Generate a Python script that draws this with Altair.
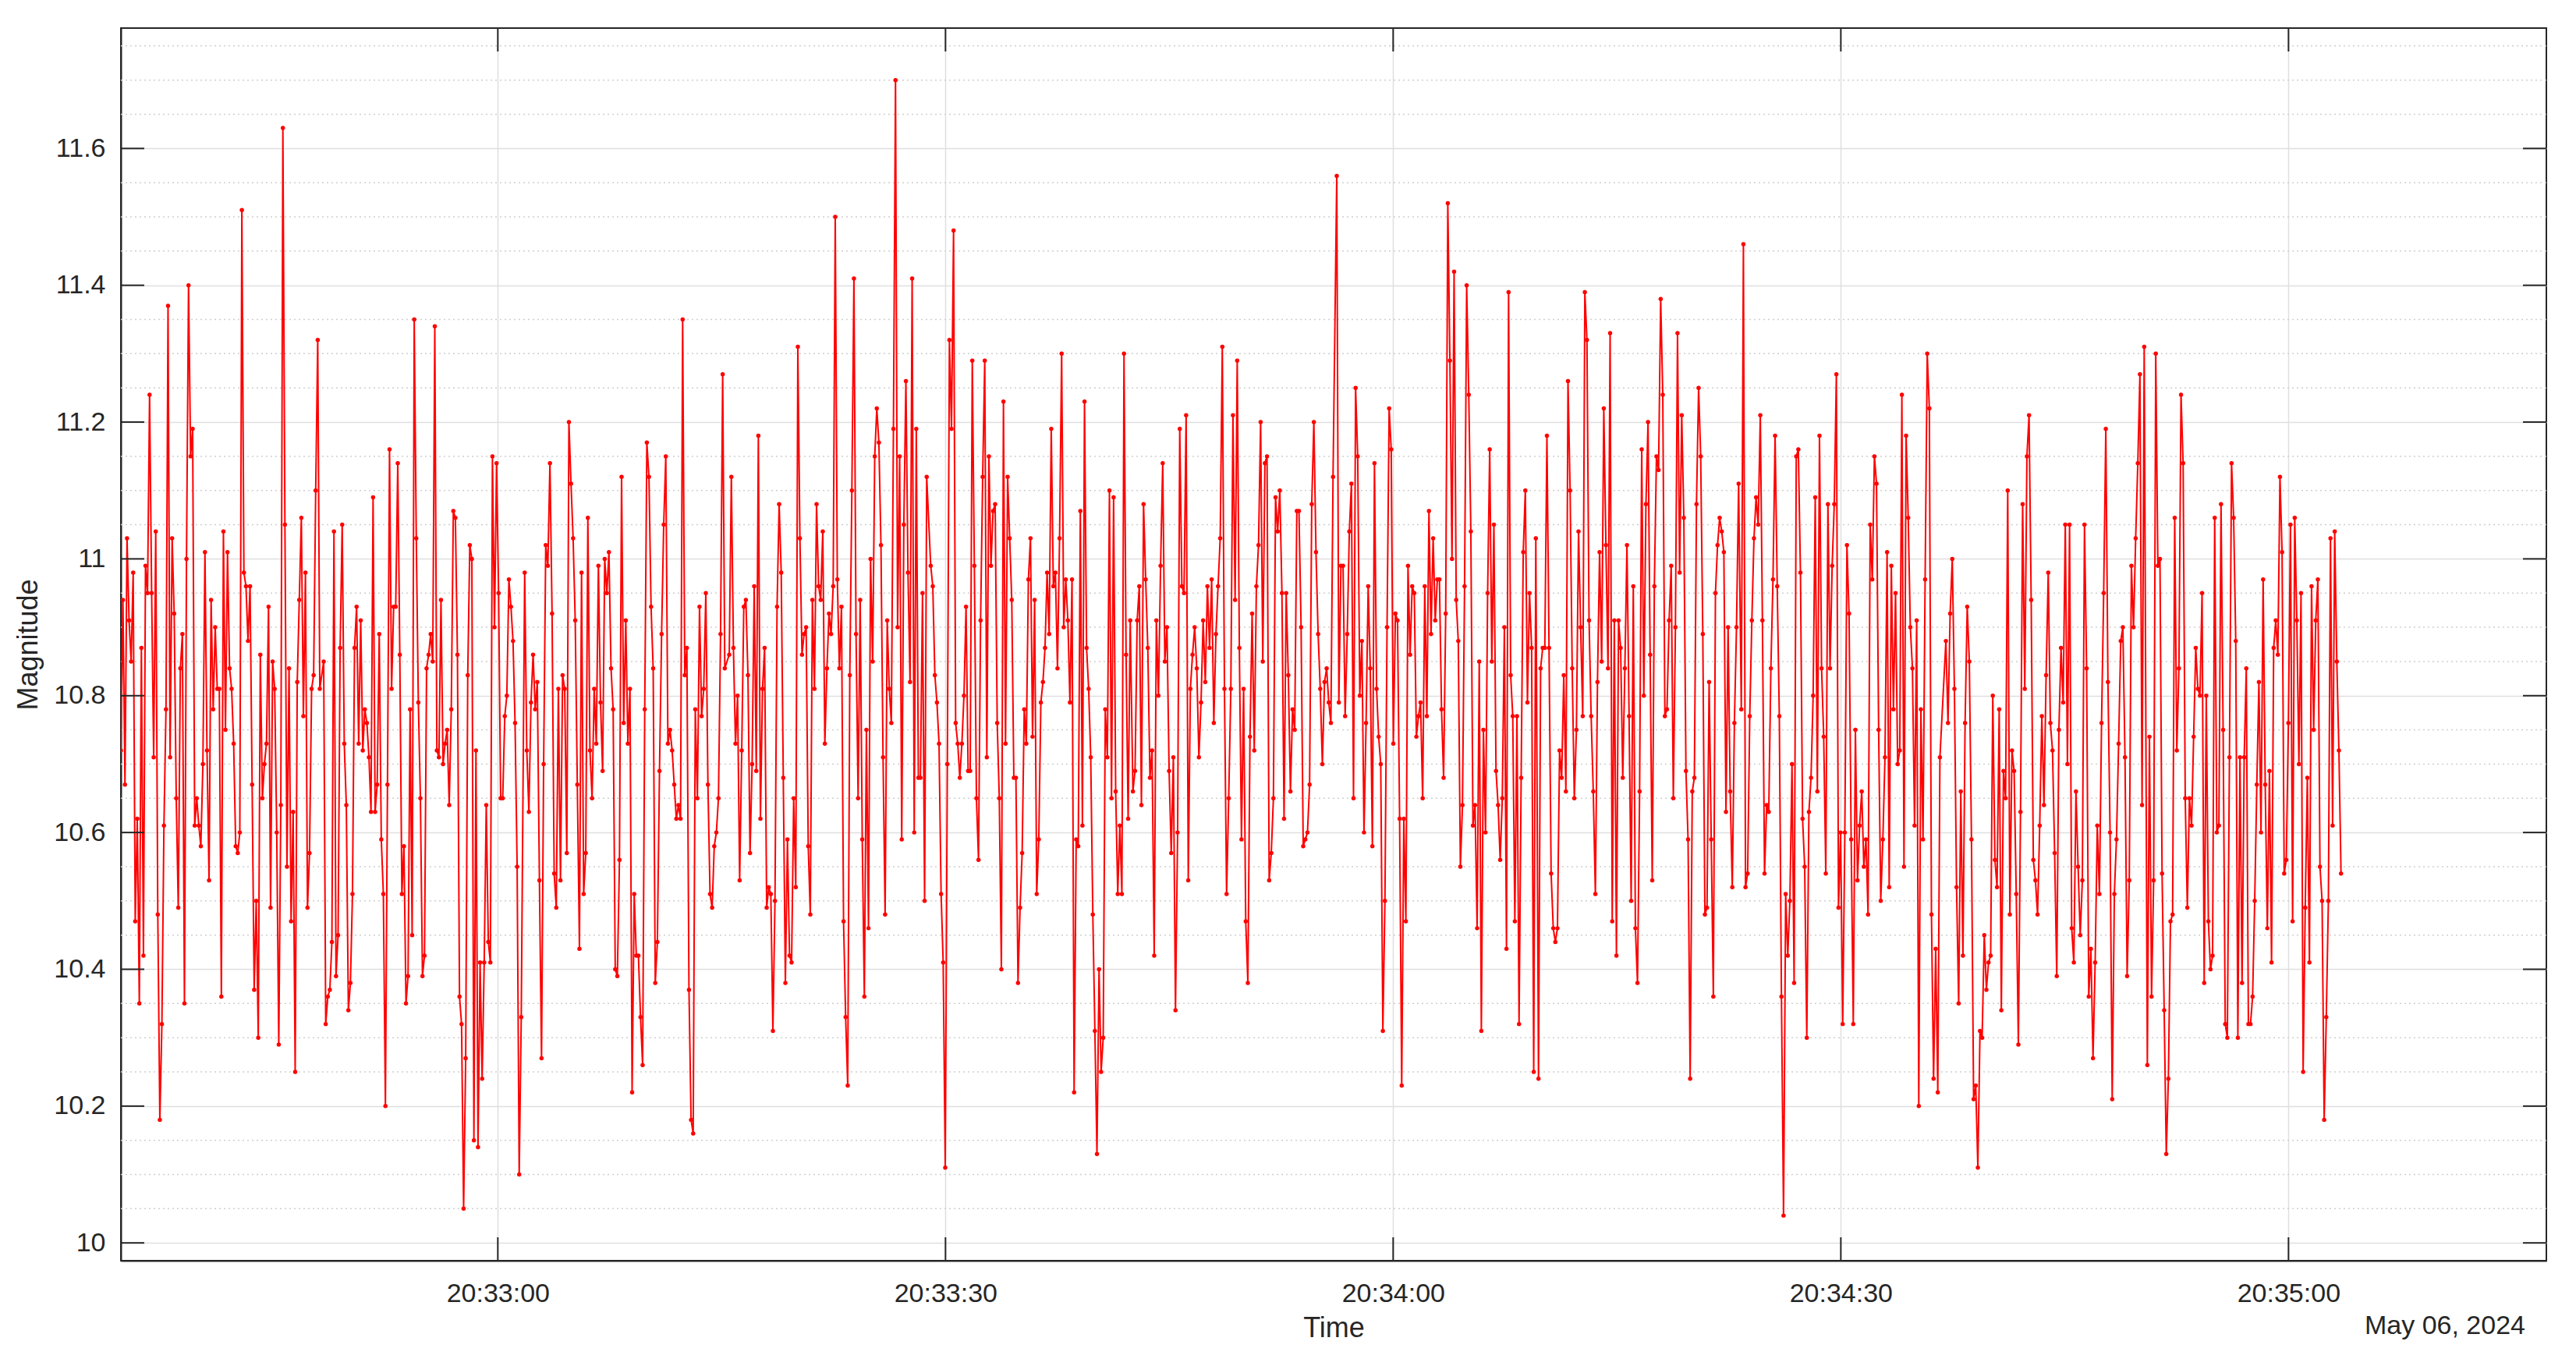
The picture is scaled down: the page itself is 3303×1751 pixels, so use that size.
import altair as alt
import pandas as pd

# ---- data (magnitude samples, left to right, in 11 runs) ----
S1 = [10.72,10.94,10.67,11.03,10.91,10.85,10.98,10.47,10.62,10.35,10.87,10.42,10.99,10.95,11.24,10.95,10.71,11.04,10.48,10.18,10.32,10.61,10.78,11.37,10.71,11.03,10.92,10.65,10.49,10.84,10.89,10.35,11.00,11.40,11.15,11.19,10.61,10.65,10.61,10.58,10.70,11.01,10.72,10.53,10.94,10.78,10.90,10.81,10.81,10.36,11.04,10.75,11.01,10.84,10.81,10.73,10.58,10.57,10.60,11.51,10.98,10.96,10.88,10.96,10.67,10.37,10.50,10.30,10.86,10.65,10.70,10.73,10.93,10.49,10.85,10.81,10.60,10.29,10.64,11.63,11.05,10.55,10.84,10.47,10.63,10.25,10.82,10.94,11.06,10.77,10.98,10.49,10.57,10.81,10.83,11.10,11.32,10.81]
S2 = [10.85,10.32,10.36,10.37,10.44,11.04,10.39,10.45,10.87,11.05,10.73,10.64,10.34,10.38,10.51,10.87,10.93,10.73,10.91,10.72,10.78,10.76,10.71,10.63,11.09,10.63,10.67,10.89,10.59,10.51,10.20,10.67,11.16,10.81,10.93,10.93,11.14,10.86,10.51,10.58,10.35,10.39,10.78,10.45,11.35,11.03,10.79,10.65,10.39,10.42,10.84,10.86,10.89,10.85,11.34,10.72,10.71,10.94,10.70,10.73,10.75,10.64,10.78,11.07,11.06,10.86,10.36,10.32,10.05,10.27,10.83,11.02,11.00,10.15,10.72,10.14,10.41,10.24,10.41,10.64,10.44,10.41,11.15,10.90,11.14,10.95,10.65,10.65,10.77,10.80,10.97,10.93,10.88,10.76,10.55,10.10,10.33]
S3 = [10.98,10.72,10.63,10.79,10.86,10.78,10.82,10.53,10.27,10.70,11.02,10.99,11.14,10.92,10.54,10.49,10.81,10.53,10.83,10.81,10.57,11.20,11.11,11.03,10.91,10.67,10.43,10.98,10.51,10.57,11.06,10.72,10.65,10.81,10.73,10.99,10.79,10.69,11.00,10.95,11.01,10.84,10.78,10.40,10.39,10.56,11.12,10.76,10.91,10.73,10.81,10.22,10.51,10.42,10.42,10.33,10.26,10.78,11.17,11.12,10.93,10.84,10.38,10.44,10.69,10.89,11.05,11.15,10.73,10.75,10.72,10.67,10.62,10.64,10.62,11.35,10.83,10.87,10.37,10.18,10.16,10.78,10.65,10.93,10.77,10.81,10.95,10.67,10.51,10.49,10.58,10.60,10.65,10.89,11.27,10.84]
S4 = [10.86,11.12,10.87,10.73,10.80,10.53,10.72,10.93,10.94,10.83,10.57,10.70,10.96,10.69,11.18,10.62,10.81,10.87,10.49,10.52,10.51,10.31,10.50,10.93,11.08,10.98,10.68,10.38,10.59,10.42,10.41,10.65,10.52,11.31,11.03,10.86,10.89,10.90,10.58,10.48,10.94,10.81,11.08,10.96,10.94,11.04,10.73,10.84,10.92,10.89,10.96,11.50,10.97,10.84,10.93,10.47,10.33,10.23,10.83,11.10,11.41,10.89,10.65,10.94,10.59,10.36,10.75,10.46,11.00,10.85,11.15,11.22,11.17,11.02,10.71,10.48,10.91,10.81,10.76,11.19,11.70,10.90,11.15,10.59,11.05,11.26,10.98,10.82,11.41,10.60,11.19,10.68,10.68,10.95,10.50,11.12]
S5 = [10.99,10.96,10.83,10.79,10.73,10.51,10.41,10.11,10.70,11.32,11.19,11.48,10.76,10.73,10.68,10.73,10.80,10.93,10.69,10.69,11.29,10.99,10.65,10.56,10.91,11.12,11.29,10.71,11.15,10.99,11.07,11.08,10.76,10.65,10.40,11.23,10.73,11.12,11.03,10.94,10.68,10.68,10.38,10.49,10.57,10.78,10.73,10.97,11.03,10.74,10.94,10.51,10.59,10.79,10.82,10.87,10.98,10.89,11.19,10.96,10.98,10.84,11.03,11.30,10.90,10.97,10.91,10.79,10.97,10.22,10.59,10.58,11.07,10.61,11.23,10.87,10.81,10.71,10.48,10.31,10.13,10.40,10.25,10.30,10.78,10.71,11.10,10.65,11.09,10.66,10.51,10.61,10.51,11.30,10.86,10.62,10.91]
S6 = [10.66,10.69,10.91,10.96,10.64,11.08,10.97,10.87,10.68,10.72,10.42,10.91,10.80,10.99,11.14,10.85,10.90,10.69,10.57,10.71,10.34,10.60,11.19,10.96,10.95,11.21,10.53,10.81,10.86,10.90,10.84,10.71,10.79,10.91,10.82,10.96,10.87,10.97,10.76,10.89,10.96,11.03,11.31,10.81,10.51,10.65,10.81,11.21,10.94,11.29,10.87,10.59,10.81,10.47,10.38,10.74,10.92,10.72,10.96,11.02,11.20,10.85,11.14,11.15,10.53,10.57,10.65,11.09,11.04,11.10,10.95,10.62,10.95,10.83,10.66,10.78,10.75,11.07,11.07,10.90,10.58,10.59,10.60,10.67,11.08,11.20,11.01,10.89,10.81,10.70,10.82,10.84,10.79,10.76,11.12]
S7 = [11.56,10.79,10.99,10.99,10.77,10.89,11.04,11.11,10.65,11.25,11.15,10.80,10.88,10.60,10.76,10.96,10.84,10.58,11.14,10.81,10.74,10.70,10.31,10.50,10.90,11.22,11.16,10.73,10.92,10.91,10.62,10.23,10.62,10.47,10.99,10.86,10.96,10.95,10.74,10.77,10.79,10.65,10.96,10.77,11.07,10.89,11.03,10.91,10.97,10.97,10.78,10.68,10.92,11.52,11.29,11.00,11.42,10.94,10.88,10.55,10.64,10.96,11.40,11.24,11.04,10.61,10.64,10.46,10.85,10.31,10.75,10.60,10.95,11.16,10.85,11.05,10.69,10.64,10.56,10.65,10.90,10.43,11.39,10.83,10.77,10.47,10.77,10.32,10.68,11.01,11.10,10.79,10.95,10.87,10.25,11.03]
S8 = [10.24,10.84,10.87,10.87,11.18,10.87,10.54,10.46,10.44,10.46,10.72,10.68,10.83,10.66,11.26,11.10,10.84,10.65,10.75,11.04,10.90,10.77,11.39,11.32,10.91,10.77,10.66,10.51,10.82,11.01,10.85,11.22,11.02,10.84,11.33,10.47,10.91,10.42,10.91,10.87,10.68,10.84,11.02,10.77,10.50,10.96,10.46,10.38,10.66,11.16,10.80,11.08,11.20,10.86,10.53,10.96,11.15,11.13,11.38,11.24,10.77,10.78,10.91,10.99,10.65,10.90,11.33,10.98,11.21,11.06,10.69,10.59,10.24,10.66,10.68,11.08,11.25,11.15,10.89,10.48,10.49,10.82,10.59,10.36,10.95,11.02,11.06,11.04,11.01,10.63,10.90,10.66,10.52,10.76,10.90,11.11]
S9 = [10.78,11.46,10.52,10.54,10.77,10.91,11.03,11.09,11.05,11.21,10.91,10.54,10.64,10.63,10.84,10.97,11.18,10.96,10.77,10.36,10.04,10.51,10.42,10.50,10.70,10.38,11.15,11.16,10.98,10.62,10.55,10.30,10.63,10.68,10.80,11.09,10.66,11.18,10.84,10.74,10.54,11.08,10.84,10.99,11.08,11.27,10.49,10.60,10.32,10.60,11.02,10.92,10.59,10.32,10.75,10.53,10.61,10.66,10.55,10.59,10.48,11.05,10.97,11.15,11.11,10.75,10.50,10.59,10.71,11.01,10.52,10.99,10.78,10.95,10.70,10.72,11.24,10.55,11.18,11.06,10.90,10.84,10.61,10.91,10.20,10.78,10.59,10.97,11.30,11.22,10.48,10.24,10.43,10.22,10.71]
S10 = [10.88,10.76,10.92,11.00,10.81,10.52,10.35,10.66,10.42,10.76,10.93,10.85,10.59,10.21,10.23,10.11,10.31,10.30,10.45,10.37,10.41,10.42,10.80,10.56,10.52,10.78,10.34,10.69,10.65,11.10,10.48,10.72,10.69,10.51,10.29,10.63,11.08,10.81,11.15,11.21,10.94,10.56,10.53,10.48,10.61,10.77,10.64,10.83,10.98,10.76,10.72,10.57,10.39,10.75,10.87,10.79,11.05,10.70,11.05,10.46,10.41,10.66,10.55,10.45,10.53,11.05,10.84,10.36,10.43,10.27,10.41,10.61,10.51,10.76,10.95,11.19,10.82,10.60,10.21,10.51,10.59,10.73,10.88,10.90,10.71,10.39,10.53,10.99,10.90,11.03,11.14,11.27,10.64,11.31]
S11 = [10.26,10.74,10.36,10.53,11.30,10.99,11.00,10.54,10.34,10.13,10.24,10.47,10.48,11.06,10.72,10.84,11.24,11.14,10.65,10.49,10.65,10.61,10.74,10.87,10.81,10.80,10.95,10.38,10.80,10.47,10.40,10.42,11.06,10.60,10.61,11.08,10.75,10.32,10.30,10.71,11.14,11.06,10.88,10.30,10.71,10.38,10.71,10.84,10.32,10.32,10.36,10.50,10.67,10.82,10.60,10.97,10.67,10.46,10.69,10.41,10.87,10.91,10.86,11.12,11.01,10.54,10.56,10.76,11.05,10.47,11.06,10.91,10.70,10.95,10.25,10.49,10.68,10.41,10.96,10.75,10.91,10.97,10.55,10.50,10.18,10.33,10.50,11.03,10.61,11.04,10.85,10.72,10.54]

runs = [S1, S2, S3, S4, S5, S6, S7, S8, S9, S10, S11]
# time of the first and last sample of each run
run_start = ["20:32:34.740", "20:32:48.330", "20:33:01.800", "20:33:15.510", "20:33:29.010", "20:33:42.560",
             "20:33:56.220", "20:34:09.740", "20:34:23.330", "20:34:37.040", "20:34:50.540"]
run_end = ["20:32:48.070", "20:33:01.570", "20:33:15.210", "20:33:28.740", "20:33:42.380", "20:33:55.970",
           "20:34:09.560", "20:34:23.150", "20:34:36.640", "20:34:50.330", "20:35:03.520"]

time_str, magnitude = [], []
for vals, a, b in zip(runs, run_start, run_end):
    ts = pd.date_range(pd.Timestamp("2024-05-06 " + a), pd.Timestamp("2024-05-06 " + b), periods=len(vals))
    time_str += [t.strftime("%Y-%m-%dT%H:%M:%S.") + f"{t.microsecond // 1000:03d}" for t in ts]
    magnitude += vals
df = pd.DataFrame({"time": time_str, "mag": magnitude})

x_ticks = ["2024-05-06T20:33:00", "2024-05-06T20:33:30", "2024-05-06T20:34:00",
           "2024-05-06T20:34:30", "2024-05-06T20:35:00"]
y_ticks = [10.0, 10.2, 10.4, 10.6, 10.8, 11.0, 11.2, 11.4, 11.6]
y_minor = [10.05, 10.1, 10.15, 10.25, 10.3, 10.35, 10.45, 10.5, 10.55, 10.65, 10.7, 10.75,
           10.85, 10.9, 10.95, 11.05, 11.1, 11.15, 11.25, 11.3, 11.35, 11.45, 11.5, 11.55,
           11.65, 11.7, 11.75]
date_label = "May 06, 2024"

W, H = 3110, 1580
TICK = 30
INK = "#262626"
FONT = "Liberation Sans"

x_scale = alt.Scale(domain=[
    alt.DateTime(year=2024, month=5, date=6, hours=20, minutes=32, seconds=34, milliseconds=740),
    alt.DateTime(year=2024, month=5, date=6, hours=20, minutes=35, seconds=17, milliseconds=280)])
y_scale = alt.Scale(domain=[9.974, 11.776], nice=False, zero=False)

x_vals = [alt.DateTime(year=2024, month=5, date=6, hours=20, minutes=m, seconds=s)
          for (m, s) in [(33, 0), (33, 30), (34, 0), (34, 30), (35, 0)]]

base = alt.Chart(df)

line = base.mark_line(color="#ff0000", strokeWidth=2, clip=True).encode(
    x=alt.X("time:T", scale=x_scale,
            axis=alt.Axis(values=x_vals, format="%H:%M:%S", title="Time",
                          grid=True, gridColor="#dfdfdf", gridWidth=1.5,
                          ticks=False, tickSize=0, labelPadding=25,
                          titleY=86, titleBaseline="middle")),
    y=alt.Y("mag:Q", scale=y_scale,
            axis=alt.Axis(values=y_ticks, format="~g", title="Magnitude",
                          grid=True, gridColor="#dfdfdf", gridWidth=1.5,
                          ticks=False, tickSize=0, labelPadding=20,
                          titleX=-119, titleY=H / 2, titleAngle=270,
                          titleAlign="center", titleBaseline="middle")),
)
points = base.mark_circle(color="#ff0000", size=30, opacity=1, clip=True).encode(
    x=alt.X("time:T", scale=x_scale),
    y=alt.Y("mag:Q", scale=y_scale),
)

minor_df = pd.DataFrame({"v": y_minor})
minor = alt.Chart(minor_df).mark_rule(color="#cfcfcf", strokeWidth=1.5, strokeDash=[2, 4]).encode(
    y=alt.Y("v:Q", scale=y_scale), x=alt.value(0), x2=alt.value(W))

xt_df = pd.DataFrame({"t": x_ticks})
xt_bottom = alt.Chart(xt_df).mark_rule(color=INK, strokeWidth=2).encode(
    x=alt.X("t:T", scale=x_scale), y=alt.value(H), y2=alt.value(H - TICK))
xt_top = alt.Chart(xt_df).mark_rule(color=INK, strokeWidth=2).encode(
    x=alt.X("t:T", scale=x_scale), y=alt.value(0), y2=alt.value(TICK))

yt_df = pd.DataFrame({"v": y_ticks})
yt_left = alt.Chart(yt_df).mark_rule(color=INK, strokeWidth=2).encode(
    y=alt.Y("v:Q", scale=y_scale), x=alt.value(0), x2=alt.value(TICK))
yt_right = alt.Chart(yt_df).mark_rule(color=INK, strokeWidth=2).encode(
    y=alt.Y("v:Q", scale=y_scale), x=alt.value(W - TICK), x2=alt.value(W))

date_text = alt.Chart(pd.DataFrame({"label": [date_label]})).mark_text(
    align="right", baseline="middle", fontSize=34, font=FONT, color=INK).encode(
    text="label:N", x=alt.value(3083), y=alt.value(1664))

chart = alt.layer(minor, line, points, xt_bottom, xt_top, yt_left, yt_right, date_text).properties(
    width=W, height=H,
    autosize=alt.AutoSizeParams(type="none"),
    padding={"left": 147, "top": 28, "right": 30, "bottom": 120},
).configure_view(stroke=INK, strokeWidth=2).configure_axis(
    labelFont=FONT, labelFontSize=34, labelColor=INK,
    titleFont=FONT, titleFontSize=36, titleFontWeight="normal", titleColor=INK,
    domainColor=INK, domainWidth=2,
)

chart.save("out.html", embed_options={"renderer": "svg", "actions": False})
